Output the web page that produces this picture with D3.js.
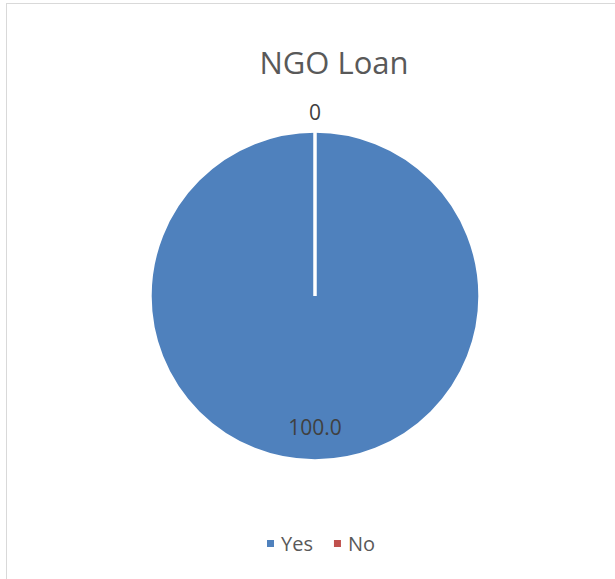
<!DOCTYPE html>
<html lang="en">
    <head>
        <meta charset="utf-8">
        <title>NGO Loan</title>
        <script type="text/javascript" src="https://d3js.org/d3.v7.min.js"></script>
        <style>
          body { margin: 0; background: #fff; }
        </style>
    </head>
    <body>
        <script type="text/javascript">
          const categories = ["Yes", "No"]
          const values = [100.0, 0]
          const valueLabels = ["100.0", "0"]
          const colors = ["#4f81bd", "#c0504d"]
          const chartTitle = "NGO Loan"

          const w = 615, h = 579
          const cx = 315, cy = 296, r = 165
          const font = "'Open Sans', 'Noto Sans', sans-serif"

          const svg = d3.select("body")
                        .append("svg")
                        .attr("width", w)
                        .attr("height", h)

          // chart area border (runs off the right and bottom edges)
          svg.append("rect")
            .attr("x", 6.5)
            .attr("y", 3.5)
            .attr("width", 700)
            .attr("height", 700)
            .attr("fill", "#fff")
            .attr("stroke", "#d9d9d9")

          svg.append("text")
            .text(chartTitle)
            .attr("x", 334)
            .attr("y", 74)
            .attr("text-anchor", "middle")
            .attr("font-family", font)
            .attr("font-size", "31px")
            .attr("fill", "#595959")

          const color = d3.scaleOrdinal().domain(categories).range(colors)

          const pie = d3.pie().sort(null).value((d) => d.value)
          const arcs = pie(categories.map((c, i) => ({ name: c, value: values[i], label: valueLabels[i] })))

          const arc = d3.arc().innerRadius(0).outerRadius(r)

          const g = svg.append("g").attr("transform", `translate(${cx},${cy})`)

          g.selectAll("path")
            .data(arcs)
            .enter()
            .append("path")
            .attr("d", arc)
            .attr("fill", (d) => color(d.data.name))
            .attr("stroke", "#fff")
            .attr("stroke-width", 3.5)

          // label radius: inside for big slices, outside for empty ones
          const labelArc = (d) => {
            const rr = d.endAngle - d.startAngle > 0.01 ? r * 0.8 : r + 18
            return d3.arc().innerRadius(rr).outerRadius(rr).centroid(d)
          }

          g.selectAll("text.lbl")
            .data(arcs)
            .enter()
            .append("text")
            .attr("class", "lbl")
            .text((d) => d.data.label)
            .attr("x", (d) => labelArc(d)[0])
            .attr("y", (d) => labelArc(d)[1])
            .attr("dy", "0.35em")
            .attr("text-anchor", "middle")
            .attr("font-family", font)
            .attr("font-size", "21px")
            .attr("fill", "#404040")

          // legend
          const legend = svg.append("g").attr("transform", "translate(267,551)")
          let lx = 0
          categories.forEach((c) => {
            const item = legend.append("g").attr("transform", `translate(${lx},0)`)
            item.append("rect")
              .attr("x", 0)
              .attr("y", -11)
              .attr("width", 7)
              .attr("height", 7)
              .attr("fill", color(c))
            const t = item.append("text")
              .text(c)
              .attr("x", 14)
              .attr("y", 0)
              .attr("font-family", font)
              .attr("font-size", "20px")
              .attr("fill", "#595959")
            lx += 14 + t.node().getComputedTextLength() + 21
          })
        </script>
    </body>
</html>
